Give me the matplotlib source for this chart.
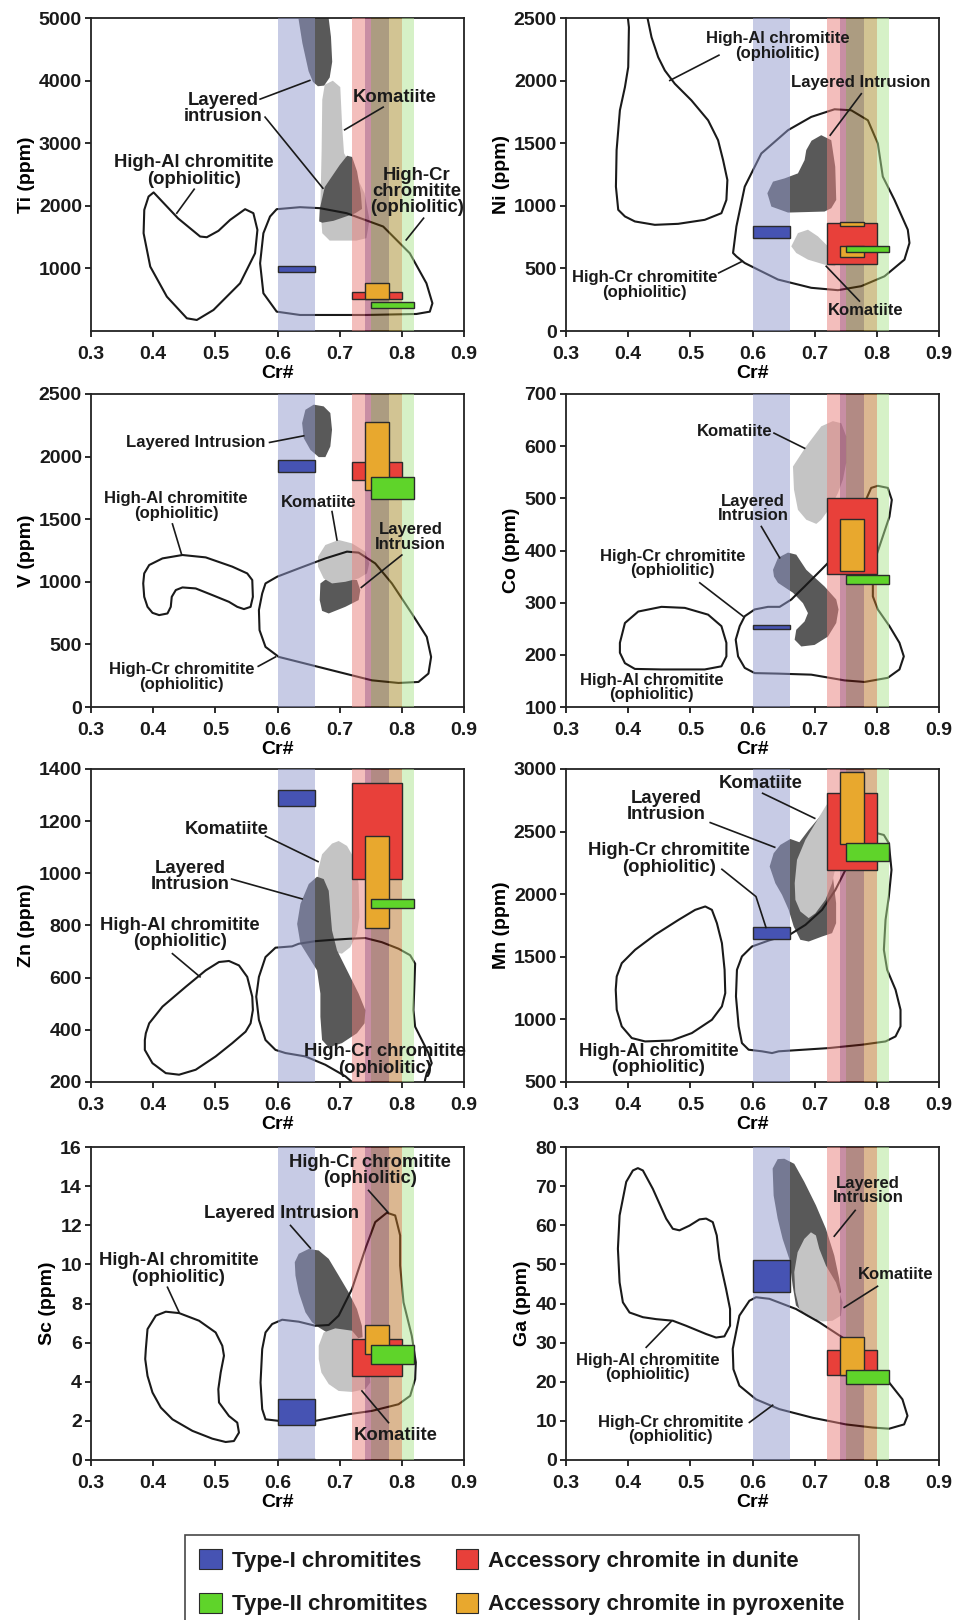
"""
Cr# versus trace elements in chromite: Ti, Ni, V, Co, Zn, Mn, Sc, Ga.
"""

import matplotlib.pyplot as plt
from matplotlib.colors import to_rgb
from matplotlib.patches import Patch, Polygon, Rectangle


plt.rcParams["font.family"] = ["Liberation Sans", "DejaVu Sans"]
plt.rcParams["font.weight"] = "bold"
plt.rcParams["axes.labelweight"] = "bold"

# ---------------------------------------------------------------- data
CR_TICKS = [0.3, 0.4, 0.5, 0.6, 0.7, 0.8, 0.9]
TYPE1_BAND = [0.60, 0.66]
ACCESSORY_BAND_EDGES = [0.72, 0.74, 0.75, 0.78, 0.80, 0.82]

LEGEND_LABELS = [
    "Type-I chromitites",
    "Type-II chromitites",
    "Accessory chromite in dunite",
    "Accessory chromite in pyroxenite",
]

# Ti
TI_LAYERED = [
    [(0.632, 5100), (0.640, 4600), (0.650, 4150), (0.657, 3980), (0.665, 3910),
     (0.675, 3920), (0.684, 4050), (0.688, 4300), (0.686, 4700), (0.681, 5100)],
    [(0.667, 1750), (0.668, 1950), (0.676, 2300), (0.700, 2650), (0.712, 2800),
     (0.720, 2780), (0.728, 2550), (0.734, 2200), (0.736, 1950), (0.725, 1880),
     (0.690, 1760), (0.672, 1730)],
]
TI_KOMATIITE = [
    [(0.671, 2894), (0.672, 3694), (0.676, 3934), (0.689, 3998), (0.701, 3896),
     (0.704, 3267), (0.707, 2841), (0.722, 2574), (0.740, 2201), (0.748, 1775),
     (0.743, 1482), (0.727, 1444), (0.684, 1444), (0.672, 1562), (0.669, 1988)],
]
TI_HIGH_AL = [(0.4007, 2214), (0.44, 1800), (0.4756, 1509), (0.4863, 1498), (0.505, 1600),
              (0.5238, 1775), (0.5479, 1946), (0.5612, 1882), (0.5677, 1615), (0.5639, 1242),
              (0.5398, 762), (0.4970, 336), (0.4702, 176), (0.4542, 203), (0.4220, 549),
              (0.3953, 1029), (0.3846, 1562), (0.3857, 1935), (0.3926, 2148)]
TI_HIGH_CR = [(0.5987, 1946), (0.6362, 1978), (0.6683, 1962), (0.7111, 1882), (0.7700, 1669),
              (0.8128, 1242), (0.8396, 762), (0.8492, 443), (0.8450, 309), (0.8235, 272),
              (0.7432, 256), (0.6362, 256), (0.5987, 309), (0.5773, 603), (0.5720, 1082),
              (0.5773, 1562), (0.5880, 1829)]
# boxes: (group, Cr# min, Cr# max, ppm min, ppm max)
TI_BOXES = [("type1", 0.60, 0.66, 950, 1040), ("dunite", 0.72, 0.80, 510, 620),
            ("pyroxenite", 0.74, 0.78, 510, 760), ("type2", 0.75, 0.82, 375, 470)]
TI_NOTES = [
    ("Layered\nintrusion", (0.513, 3550),
     [[(0.572, 3704), (0.652, 4003)], [(0.580, 3417), (0.673, 2281)]]),
    ("Komatiite", (0.789, 3731), [[(0.770, 3576), (0.708, 3214)]]),
    ("High-Al chromitite\n(ophiolitic)", (0.466, 2558), [[(0.466, 2265), (0.438, 1882)]]),
    ("High-Cr\nchromitite\n(ophiolitic)", (0.824, 2228), [[(0.835, 1802), (0.807, 1455)]]),
]

# Ni
NI_LAYERED = [
    [(0.6239, 1100), (0.6330, 1193), (0.6517, 1219), (0.6731, 1259), (0.6838, 1365),
     (0.6865, 1445), (0.6950, 1520), (0.7106, 1564), (0.7267, 1524), (0.7331, 1312),
     (0.7347, 1047), (0.7267, 981), (0.7159, 954), (0.6571, 946), (0.6303, 994)],
]
NI_KOMATIITE = [
    [(0.6624, 676), (0.6731, 782), (0.6892, 809), (0.7052, 756), (0.7267, 650),
     (0.7374, 543), (0.7320, 517), (0.7159, 530), (0.6892, 570), (0.6704, 623)],
]
NI_HIGH_AL = [(0.3974, 2600), (0.4012, 2426), (0.4001, 2108), (0.3948, 1948), (0.3867, 1763),
              (0.3814, 1445), (0.3803, 1153), (0.3840, 968), (0.3948, 915), (0.4108, 875),
              (0.4429, 848), (0.4804, 856), (0.5232, 888), (0.5500, 941), (0.5580, 1047),
              (0.5596, 1206), (0.5527, 1365), (0.5446, 1524), (0.5286, 1683), (0.5018, 1842),
              (0.4750, 1975), (0.4590, 2081), (0.4483, 2187), (0.4376, 2346), (0.4269, 2600)]
NI_HIGH_CR = [(0.5687, 623), (0.5741, 835), (0.5875, 1153), (0.6142, 1418), (0.6571, 1604),
              (0.6945, 1710), (0.7320, 1771), (0.7588, 1763), (0.7856, 1683), (0.8016, 1498),
              (0.8096, 1233), (0.8284, 1047), (0.8498, 809), (0.8525, 703), (0.8444, 570),
              (0.8123, 437), (0.7748, 358), (0.7374, 326), (0.6945, 345), (0.6410, 411),
              (0.6089, 490), (0.5875, 543), (0.5741, 596)]
NI_BOXES = [("type1", 0.60, 0.66, 740, 840), ("dunite", 0.72, 0.80, 535, 860),
            ("pyroxenite", 0.74, 0.78, 840, 868), ("pyroxenite", 0.74, 0.78, 590, 680),
            ("type2", 0.75, 0.82, 630, 680)]
NI_NOTES = [
    ("High-Al chromitite\n(ophiolitic)", (0.640, 2277), [[(0.546, 2203), (0.467, 2001)]]),
    ("Layered Intrusion", (0.7737, 1988), [[(0.775, 1895), (0.725, 1564)]]),
    ("High-Cr chromitite\n(ophiolitic)", (0.4269, 368), [[(0.5457, 464), (0.5837, 557)]]),
    ("Komatiite", (0.7823, 167), [[(0.772, 239), (0.7186, 517)]]),
]

# V
V_LAYERED = [
    [(0.6396, 2268), (0.6449, 2374), (0.6583, 2415), (0.6743, 2401), (0.6850, 2348),
     (0.6877, 2214), (0.6850, 2081), (0.6770, 1996), (0.6663, 1996), (0.6529, 2054),
     (0.6422, 2148)],
    [(0.6690, 987), (0.6797, 1027), (0.7091, 1027), (0.7278, 1014), (0.7332, 934),
     (0.7305, 854), (0.7091, 800), (0.6824, 747), (0.6717, 768), (0.6679, 854)],
]
V_KOMATIITE = [
    [(0.6652, 1201), (0.6770, 1294), (0.6984, 1334), (0.7198, 1307), (0.7412, 1241),
     (0.7476, 1147), (0.7439, 1067), (0.7305, 1027), (0.7091, 1000), (0.6877, 987),
     (0.6743, 1027), (0.6652, 1121)],
]
V_HIGH_AL = [(0.3856, 1067), (0.3936, 1134), (0.4150, 1187), (0.4471, 1214), (0.4845, 1195),
             (0.5273, 1121), (0.5513, 1067), (0.5594, 1014), (0.5604, 880), (0.5567, 800),
             (0.5460, 782), (0.5353, 800), (0.5219, 840), (0.4952, 894), (0.4684, 947),
             (0.4471, 955), (0.4364, 934), (0.4299, 880), (0.4283, 800), (0.4230, 747),
             (0.4096, 734), (0.3989, 752), (0.3909, 800), (0.3856, 880), (0.3840, 987)]
V_HIGH_CR = [(0.5807, 987), (0.5995, 1041), (0.6342, 1107), (0.6770, 1187), (0.7118, 1241),
             (0.7305, 1233), (0.7572, 1147), (0.7840, 987), (0.8160, 747), (0.8401, 560),
             (0.8471, 400), (0.8428, 267), (0.8267, 200), (0.7947, 192), (0.7519, 213),
             (0.6877, 293), (0.6342, 360), (0.6021, 400), (0.5807, 480), (0.5711, 614),
             (0.5701, 774), (0.5754, 907)]
V_BOXES = [("type1", 0.60, 0.66, 1880, 1970), ("dunite", 0.72, 0.80, 1810, 1960),
           ("pyroxenite", 0.74, 0.78, 1735, 2280), ("type2", 0.75, 0.82, 1660, 1840)]
V_NOTES = [
    ("Layered Intrusion", (0.4684, 2113), [[(0.5872, 2113), (0.6422, 2166)]]),
    ("High-Al chromitite\n(ophiolitic)", (0.4369, 1606), [[(0.4310, 1462), (0.4460, 1214)]]),
    ("Komatiite", (0.6668, 1633), [[(0.6877, 1561), (0.6957, 1334)]]),
    ("Layered\nIntrusion", (0.8144, 1358), [[(0.800, 1214), (0.7348, 955)]]),
    ("High-Cr chromitite\n(ophiolitic)", (0.446, 240), [[(0.569, 325), (0.5968, 400)]]),
]

# Co
CO_LAYERED = [
    [(0.6330, 363), (0.6410, 386), (0.6571, 396), (0.6704, 392), (0.6865, 363),
     (0.7159, 331), (0.7347, 306), (0.7384, 287), (0.7347, 261), (0.7213, 235),
     (0.6999, 219), (0.6785, 216), (0.6678, 229), (0.6704, 248), (0.6838, 264),
     (0.6892, 280), (0.6812, 299), (0.6651, 319), (0.6410, 338), (0.6346, 350)],
]
CO_KOMATIITE = [
    [(0.6651, 561), (0.6865, 600), (0.7106, 638), (0.7293, 648), (0.7427, 644),
     (0.7507, 619), (0.7507, 568), (0.7454, 536), (0.7374, 510), (0.7267, 485),
     (0.7106, 459), (0.7026, 451), (0.6865, 459), (0.6731, 478), (0.6667, 517)],
]
CO_HIGH_AL = [(0.3867, 223), (0.3948, 261), (0.4162, 283), (0.4536, 292), (0.4911, 290),
              (0.5286, 277), (0.5500, 255), (0.5580, 223), (0.5580, 197), (0.5500, 178),
              (0.5232, 172), (0.4536, 172), (0.4108, 173), (0.3948, 184), (0.3867, 204)]
CO_HIGH_CR = [(0.5730, 229), (0.5794, 255), (0.5875, 274), (0.6035, 287), (0.6249, 292),
              (0.6437, 292), (0.6624, 306), (0.6838, 331), (0.7106, 363), (0.7320, 389),
              (0.7534, 421), (0.7695, 453), (0.7802, 491), (0.7909, 520), (0.8016, 524),
              (0.8177, 520), (0.8241, 497), (0.8203, 465), (0.8096, 427), (0.7989, 389),
              (0.7936, 350), (0.7936, 312), (0.8016, 287), (0.8203, 255), (0.8364, 223),
              (0.8434, 197), (0.8364, 172), (0.8177, 156), (0.7802, 148), (0.7481, 151),
              (0.6945, 162), (0.6410, 164), (0.6035, 165), (0.5875, 175), (0.5768, 197)]
CO_BOXES = [("type1", 0.60, 0.66, 250, 257), ("dunite", 0.72, 0.80, 355, 500),
            ("pyroxenite", 0.74, 0.78, 360, 460), ("type2", 0.75, 0.82, 335, 353)]
CO_NOTES = [
    ("Komatiite", (0.572, 628), [[(0.6346, 625), (0.6838, 596)]]),
    ("Layered\nIntrusion", (0.6009, 480), [[(0.6142, 446), (0.6437, 386)]]),
    ("High-Cr chromitite\n(ophiolitic)", (0.4718, 375), [[(0.5152, 338), (0.5848, 274)]]),
    ("High-Al chromitite\n(ophiolitic)", (0.4381, 137), []),
]

# Zn
ZN_LAYERED = [
    [(0.6316, 806), (0.6369, 883), (0.6503, 959), (0.6636, 987), (0.6743, 978),
     (0.6824, 933), (0.6850, 857), (0.6877, 781), (0.6957, 705), (0.7144, 616),
     (0.7305, 539), (0.7412, 476), (0.7401, 425), (0.7278, 387), (0.7037, 349),
     (0.6824, 333), (0.6717, 361), (0.6690, 450), (0.6690, 539), (0.6636, 628),
     (0.6503, 679), (0.6369, 730)],
]
ZN_KOMATIITE = [
    [(0.6652, 1010), (0.6717, 1073), (0.6877, 1114), (0.6984, 1124), (0.7118, 1105),
     (0.7225, 1061), (0.7305, 959), (0.7316, 832), (0.7278, 768), (0.7171, 717),
     (0.7037, 692), (0.6877, 698), (0.6717, 756), (0.6652, 857)],
]
ZN_HIGH_AL = [(0.3882, 387), (0.3936, 425), (0.4150, 489), (0.4524, 565), (0.4845, 628),
              (0.5059, 660), (0.5219, 664), (0.5380, 647), (0.5513, 603), (0.5594, 527),
              (0.5604, 476), (0.5567, 425), (0.5487, 393), (0.5273, 349), (0.5005, 298),
              (0.4684, 247), (0.4417, 228), (0.4203, 234), (0.3989, 272), (0.3866, 323),
              (0.3866, 361)]
ZN_HIGH_CR = [(0.5701, 603), (0.5807, 679), (0.5968, 715), (0.6235, 720), (0.6342, 730),
              (0.6610, 740), (0.6877, 745), (0.7144, 749), (0.7412, 752), (0.7679, 736),
              (0.7947, 711), (0.8134, 686), (0.8214, 654), (0.8203, 578), (0.8187, 476),
              (0.8214, 412), (0.8294, 374), (0.8428, 311), (0.8481, 272), (0.8401, 234),
              (0.8374, 209), (0.835, 170), (0.730, 170), (0.7198, 200), (0.7091, 222),
              (0.6770, 266), (0.6449, 298), (0.6128, 311), (0.5968, 323), (0.5807, 361),
              (0.5701, 438), (0.5658, 527)]
ZN_BOXES = [("type1", 0.60, 0.66, 1260, 1320), ("dunite", 0.72, 0.80, 980, 1345),
            ("pyroxenite", 0.74, 0.78, 790, 1145), ("type2", 0.75, 0.82, 868, 902)]
ZN_NOTES = [
    ("Komatiite", (0.5182, 1169), [[(0.5807, 1143), (0.6652, 1045)]]),
    ("Layered\nIntrusion", (0.4590, 989), [[(0.5262, 978), (0.6396, 902)]]),
    ("High-Al chromitite\n(ophiolitic)", (0.4428, 770), [[(0.4310, 692), (0.4754, 603)]]),
    ("High-Cr chromitite\n(ophiolitic)", (0.7733, 285), []),
]

# Mn
MN_LAYERED = [
    [(0.6276, 2221), (0.6340, 2327), (0.6448, 2394), (0.6609, 2441), (0.6754, 2415),
     (0.6904, 2513), (0.7173, 2673), (0.7280, 2194), (0.7345, 1928), (0.7345, 1769),
     (0.7280, 1689), (0.7119, 1662), (0.6904, 1622), (0.6770, 1636), (0.6663, 1742),
     (0.6582, 1875), (0.6475, 1995), (0.6367, 2088)],
]
MN_KOMATIITE = [
    [(0.6679, 2088), (0.6716, 2274), (0.6851, 2434), (0.7012, 2567), (0.7173, 2700),
     (0.7280, 2779), (0.7361, 2753), (0.7388, 2540), (0.7361, 2274), (0.7280, 2088),
     (0.7173, 1955), (0.7012, 1848), (0.6904, 1809), (0.6770, 1862), (0.6690, 1955)],
]
MN_HIGH_AL = [(0.3816, 1343), (0.3897, 1449), (0.4112, 1556), (0.4434, 1676), (0.4810, 1795),
              (0.5078, 1875), (0.5240, 1902), (0.5347, 1875), (0.5427, 1769), (0.5508, 1609),
              (0.5551, 1396), (0.5562, 1210), (0.5508, 1104), (0.5347, 997), (0.5025, 891),
              (0.4702, 832), (0.4273, 824), (0.4058, 851), (0.3897, 944), (0.3816, 1077),
              (0.3800, 1237)]
MN_HIGH_CR = [(0.6609, 1680), (0.6851, 1755), (0.7119, 1875), (0.7334, 2035), (0.7495, 2194),
              (0.7700, 2400), (0.8005, 2487), (0.8113, 2473), (0.8193, 2407), (0.8236, 2194),
              (0.8193, 1981), (0.8140, 1795), (0.8113, 1556), (0.8166, 1396), (0.8301, 1237),
              (0.8381, 1077), (0.8381, 944), (0.8301, 864), (0.8140, 824), (0.7764, 798),
              (0.7227, 771), (0.6421, 745), (0.6314, 731), (0.6153, 745), (0.5938, 758),
              (0.5830, 811), (0.5777, 944), (0.5734, 1184), (0.5750, 1396), (0.5830, 1503),
              (0.5991, 1582), (0.6260, 1630)]
MN_BOXES = [("type1", 0.60, 0.66, 1640, 1735), ("dunite", 0.72, 0.80, 2195, 2810),
            ("pyroxenite", 0.74, 0.78, 2400, 2980), ("type2", 0.75, 0.82, 2265, 2410)]
MN_NOTES = [
    ("Komatiite", (0.6131, 2886), [[(0.6163, 2806), (0.7001, 2606)]]),
    ("Layered\nIntrusion", (0.4617, 2700), [[(0.5320, 2572), (0.6357, 2375)]]),
    ("High-Cr chromitite\n(ophiolitic)", (0.4660, 2282),
     [[(0.5508, 2199), (0.6056, 1981), (0.6217, 1734)]]),
    ("High-Al chromitite\n(ophiolitic)", (0.4488, 678), []),
]

# Sc
SC_LAYERED = [
    [(0.6278, 10.11), (0.6342, 10.54), (0.6503, 10.79), (0.6663, 10.71), (0.6824, 10.28),
     (0.6984, 9.43), (0.7144, 8.57), (0.7278, 7.72), (0.7358, 6.86), (0.7369, 6.27),
     (0.7225, 6.18), (0.6984, 6.27), (0.6797, 6.52), (0.6663, 6.78), (0.6556, 7.04),
     (0.6449, 7.55), (0.6342, 8.57), (0.6289, 9.43)],
]
SC_KOMATIITE = [
    [(0.6663, 5.84), (0.6743, 6.52), (0.6930, 6.73), (0.7198, 6.61), (0.7358, 6.01),
     (0.7465, 4.99), (0.7492, 3.96), (0.7412, 3.62), (0.7198, 3.48), (0.6984, 3.53),
     (0.6824, 3.88), (0.6706, 4.47), (0.6663, 5.16)],
]
SC_HIGH_AL = [(0.3882, 5.67), (0.3909, 6.69), (0.4043, 7.38), (0.4203, 7.58), (0.4417, 7.51),
              (0.4738, 7.12), (0.5005, 6.52), (0.5112, 5.84), (0.5139, 5.33), (0.5086, 4.47),
              (0.5048, 3.62), (0.5059, 2.94), (0.5219, 2.25), (0.5353, 1.91), (0.5380, 1.40),
              (0.5299, 0.97), (0.5166, 0.92), (0.4952, 1.09), (0.4631, 1.49), (0.4310, 2.08),
              (0.4123, 2.68), (0.3989, 3.45), (0.3909, 4.30), (0.3872, 5.16)]
SC_HIGH_CR = [(0.6021, 2.00), (0.5807, 2.08), (0.5754, 2.60), (0.5727, 3.96), (0.5754, 5.67),
              (0.5807, 6.52), (0.5914, 6.95), (0.6075, 7.17), (0.6342, 7.07), (0.6610, 6.86),
              (0.6824, 6.90), (0.6984, 7.38), (0.7198, 8.74), (0.7412, 10.79), (0.7572, 12.16),
              (0.7759, 12.64), (0.7893, 12.50), (0.7973, 11.48), (0.7973, 9.94), (0.8027, 8.06),
              (0.8160, 6.35), (0.8225, 4.99), (0.8214, 4.13), (0.8134, 3.28), (0.7947, 2.85),
              (0.7519, 2.51), (0.7144, 2.34), (0.6610, 2.00), (0.6235, 1.95)]
SC_BOXES = [("type1", 0.60, 0.66, 1.8, 3.1), ("type1", 0.60, 0.66, -0.05, 0.05),
            ("dunite", 0.72, 0.80, 4.3, 6.2), ("pyroxenite", 0.74, 0.78, 5.4, 6.9),
            ("type2", 0.75, 0.82, 4.9, 5.9)]
SC_NOTES = [
    ("High-Cr chromitite\n(ophiolitic)", (0.7483, 14.8), [[(0.7465, 13.78), (0.7775, 12.67)]]),
    ("Layered Intrusion", (0.6059, 12.62), [[(0.6209, 11.99), (0.6529, 10.83)]]),
    ("High-Al chromitite\n(ophiolitic)", (0.4406, 9.77), [[(0.4230, 8.83), (0.4417, 7.55)]]),
    ("Komatiite", (0.7904, 1.26), [[(0.7786, 1.91), (0.7358, 3.53)]]),
]

# Ga
GA_LAYERED = [
    [(0.6324, 74.5), (0.6405, 76.9), (0.6512, 77.0), (0.6672, 75.7), (0.6833, 71.1),
     (0.7020, 65.1), (0.7181, 59.1), (0.7315, 52.3), (0.7395, 46.3), (0.7422, 42.9),
     (0.7368, 42.0), (0.7288, 38.6), (0.7181, 36.0), (0.7020, 35.6), (0.6860, 36.9),
     (0.6699, 39.5), (0.6646, 44.6), (0.6592, 51.4), (0.6485, 56.5), (0.6405, 61.7),
     (0.6340, 67.6)],
]
GA_KOMATIITE = [
    [(0.6672, 48.0), (0.6726, 53.1), (0.6833, 56.5), (0.6940, 58.2), (0.7020, 57.4),
     (0.7074, 54.0), (0.7181, 49.7), (0.7342, 45.4), (0.7449, 40.3), (0.7422, 36.9),
     (0.7288, 35.6), (0.7127, 35.4), (0.6913, 36.5), (0.6753, 38.6), (0.6688, 42.9)],
]
GA_HIGH_AL = [(0.3835, 54.0), (0.3862, 62.5), (0.3969, 71.1), (0.4076, 74.0), (0.4156, 74.6),
              (0.4237, 74.0), (0.4397, 69.3), (0.4611, 61.7), (0.4718, 59.1), (0.4825, 58.7),
              (0.4986, 59.9), (0.5147, 61.5), (0.5254, 61.7), (0.5361, 60.8), (0.5425, 57.4),
              (0.5468, 51.4), (0.5575, 43.7), (0.5639, 38.6), (0.5639, 34.3), (0.5548, 31.6),
              (0.5414, 31.3), (0.5254, 32.2), (0.4933, 34.3), (0.4718, 35.6), (0.4451, 36.0),
              (0.4237, 36.5), (0.4022, 37.7), (0.3915, 40.3), (0.3862, 45.4)]
GA_HIGH_CR = [(0.5682, 28.4), (0.5789, 36.9), (0.5950, 40.7), (0.6057, 41.6), (0.6271, 41.2),
              (0.6699, 38.6), (0.7074, 35.2), (0.7449, 31.3), (0.7770, 27.9), (0.7984, 23.2),
              (0.8198, 19.8), (0.8412, 15.5), (0.8493, 11.3), (0.8439, 9.1), (0.8198, 8.0),
              (0.7930, 8.3), (0.7502, 9.1), (0.6967, 10.8), (0.6431, 13.0), (0.6057, 15.5),
              (0.5789, 19.0), (0.5693, 23.2)]
GA_BOXES = [("type1", 0.60, 0.66, 43, 51), ("dunite", 0.72, 0.80, 21.7, 28),
            ("pyroxenite", 0.74, 0.78, 21.7, 31.4), ("type2", 0.75, 0.82, 19.4, 23)]
GA_NOTES = [
    ("Layered\nIntrusion", (0.7856, 68.9), [[(0.7652, 63.8), (0.7315, 57.2)]]),
    ("Komatiite", (0.8305, 47.3), [[(0.8011, 44.4), (0.7475, 39.0)]]),
    ("High-Al chromitite\n(ophiolitic)", (0.4317, 23.6), [[(0.4290, 28.8), (0.4692, 35.4)]]),
    ("High-Cr chromitite\n(ophiolitic)", (0.4681, 7.8), [[(0.5950, 9.6), (0.6324, 14.0)]]),
]

# ---------------------------------------------------------------- styles
BOX_COLORS = {
    "type1": "#4653b3",
    "type2": "#5fd42a",
    "dunite": "#e8403a",
    "pyroxenite": "#e8a82e",
}
BAND_ALPHA = 0.5
TYPE1_BAND_COLOR = "#c8cce6"
# colour of each accessory band segment as it looks over white
BAND_STYLE_A = ["#f4bfbd", "#c98fa5", "#ad9d82", "#d3c594", "#d7f2c8"]
BAND_STYLE_B = ["#f4bfbd", "#c98fa5", "#b38b85", "#dcb892", "#d7f2c8"]
DARK_FIELD = "#595959"
LIGHT_FIELD = "#c4c4c4"
INK = "#1a1a1a"

PANELS = [
    dict(label="Ti (ppm)", ylim=(0, 5000), yticks=range(1000, 5001, 1000),
         layered=TI_LAYERED, komatiite=TI_KOMATIITE, high_al=TI_HIGH_AL,
         high_cr=TI_HIGH_CR, boxes=TI_BOXES, notes=TI_NOTES, bands=BAND_STYLE_A,
         fs=13.3, kom_first=True),
    dict(label="Ni (ppm)", ylim=(0, 2500), yticks=range(0, 2501, 500),
         layered=NI_LAYERED, komatiite=NI_KOMATIITE, high_al=NI_HIGH_AL,
         high_cr=NI_HIGH_CR, boxes=NI_BOXES, notes=NI_NOTES, bands=BAND_STYLE_A,
         fs=12, kom_first=True),
    dict(label="V (ppm)", ylim=(0, 2500), yticks=range(0, 2501, 500),
         layered=V_LAYERED, komatiite=V_KOMATIITE, high_al=V_HIGH_AL,
         high_cr=V_HIGH_CR, boxes=V_BOXES, notes=V_NOTES, bands=BAND_STYLE_A,
         fs=12, kom_first=False),
    dict(label="Co (ppm)", ylim=(100, 700), yticks=range(100, 701, 100),
         layered=CO_LAYERED, komatiite=CO_KOMATIITE, high_al=CO_HIGH_AL,
         high_cr=CO_HIGH_CR, boxes=CO_BOXES, notes=CO_NOTES, bands=BAND_STYLE_B,
         fs=12, kom_first=True),
    dict(label="Zn (ppm)", ylim=(200, 1400), yticks=range(200, 1401, 200),
         layered=ZN_LAYERED, komatiite=ZN_KOMATIITE, high_al=ZN_HIGH_AL,
         high_cr=ZN_HIGH_CR, boxes=ZN_BOXES, notes=ZN_NOTES, bands=BAND_STYLE_B,
         fs=13.3, kom_first=True),
    dict(label="Mn (ppm)", ylim=(500, 3000), yticks=range(500, 3001, 500),
         layered=MN_LAYERED, komatiite=MN_KOMATIITE, high_al=MN_HIGH_AL,
         high_cr=MN_HIGH_CR, boxes=MN_BOXES, notes=MN_NOTES, bands=BAND_STYLE_B,
         fs=13.3, kom_first=False),
    dict(label="Sc (ppm)", ylim=(0, 16), yticks=range(0, 17, 2),
         layered=SC_LAYERED, komatiite=SC_KOMATIITE, high_al=SC_HIGH_AL,
         high_cr=SC_HIGH_CR, boxes=SC_BOXES, notes=SC_NOTES, bands=BAND_STYLE_B,
         fs=13.3, kom_first=False),
    dict(label="Ga (ppm)", ylim=(0, 80), yticks=range(0, 81, 10),
         layered=GA_LAYERED, komatiite=GA_KOMATIITE, high_al=GA_HIGH_AL,
         high_cr=GA_HIGH_CR, boxes=GA_BOXES, notes=GA_NOTES, bands=BAND_STYLE_B,
         fs=12, kom_first=False),
]

# axes rectangles in pixels: left, top, width, height
COL_LEFT = [91, 566]
ROW_TOP = [18, 394, 769, 1147]
AX_W, AX_H = 373, 313
FIG_W, FIG_H = 956, 1620


def _overlay_color(seen, alpha=BAND_ALPHA):
    """
    Colour that, painted at `alpha` over white, gives the colour `seen`.
    """
    rgb = to_rgb(seen)
    return tuple(min(1.0, max(0.0, 1 - (1 - c) / alpha)) for c in rgb)


def draw_panel(ax, panel):
    # grey fields
    fields = [(panel["komatiite"], LIGHT_FIELD), (panel["layered"], DARK_FIELD)]
    if not panel["kom_first"]:
        fields = fields[::-1]
    for polys, color in fields:
        for poly in polys:
            ax.add_patch(Polygon(poly, closed=True, fc=color, ec="none", zorder=1))

    # ophiolitic outlines
    for poly in (panel["high_al"], panel["high_cr"]):
        ax.add_patch(Polygon(poly, closed=True, fc="none", ec=INK, lw=1.5,
                             joinstyle="round", zorder=2))

    # translucent Cr# ranges
    ax.axvspan(TYPE1_BAND[0], TYPE1_BAND[1], color=_overlay_color(TYPE1_BAND_COLOR),
               alpha=BAND_ALPHA, lw=0, zorder=3)
    edges = ACCESSORY_BAND_EDGES
    for i, seen in enumerate(panel["bands"]):
        ax.axvspan(edges[i], edges[i + 1], color=_overlay_color(seen),
                   alpha=BAND_ALPHA, lw=0, zorder=3)

    # composition boxes
    for group, x0, x1, y0, y1 in panel["boxes"]:
        ax.add_patch(Rectangle((x0, y0), x1 - x0, y1 - y0, fc=BOX_COLORS[group],
                               ec="#2b2b2b", lw=1.0, zorder=4))

    # labels with leader lines
    for text, (tx, ty), leaders in panel["notes"]:
        ax.text(tx, ty, text, ha="center", va="center", fontsize=panel["fs"],
                fontweight="bold", color=INK, linespacing=0.95, zorder=6)
        for line in leaders:
            xs, ys = zip(*line)
            ax.plot(xs, ys, color=INK, lw=1.2, zorder=5)

    ax.set_xlim(0.3, 0.9)
    ax.set_ylim(*panel["ylim"])
    ax.set_xticks(CR_TICKS)
    ax.set_xticklabels([f"{t:.1f}" for t in CR_TICKS])
    ax.set_yticks(list(panel["yticks"]))
    ax.set_xlabel("Cr#", fontsize=14, labelpad=1)
    ax.set_ylabel(panel["label"], fontsize=14, labelpad=3)
    ax.tick_params(direction="out", length=4.5, width=1.3, labelsize=14,
                   colors=INK)
    ax.tick_params(axis="x", pad=6.5)
    ax.tick_params(axis="y", pad=2)
    for spine in ax.spines.values():
        spine.set_linewidth(1.3)
        spine.set_color("#222222")


fig = plt.figure(figsize=(FIG_W / 100, FIG_H / 100), dpi=100)

for i, panel in enumerate(PANELS):
    left = COL_LEFT[i % 2]
    top = ROW_TOP[i // 2]
    ax = fig.add_axes([left / FIG_W, 1 - (top + AX_H) / FIG_H, AX_W / FIG_W, AX_H / FIG_H])
    draw_panel(ax, panel)

handles = [
    Patch(fc=BOX_COLORS["type1"], ec="#2b2b2b", lw=0.8),
    Patch(fc=BOX_COLORS["type2"], ec="#2b2b2b", lw=0.8),
    Patch(fc=BOX_COLORS["dunite"], ec="#2b2b2b", lw=0.8),
    Patch(fc=BOX_COLORS["pyroxenite"], ec="#2b2b2b", lw=0.8),
]
leg = fig.legend(
    handles, LEGEND_LABELS, ncol=2, loc="lower center",
    bbox_to_anchor=(522 / FIG_W, -0.006), fontsize=16, frameon=True,
    fancybox=False, edgecolor=INK, handlelength=1.0, handleheight=1.0,
    handletextpad=0.45, columnspacing=1.3, borderpad=0.65, labelspacing=0.95,
    borderaxespad=0.0,
)
leg.get_frame().set_linewidth(1.2)
for t in leg.get_texts():
    t.set_color(INK)

fig.savefig("out.png", dpi=100)
